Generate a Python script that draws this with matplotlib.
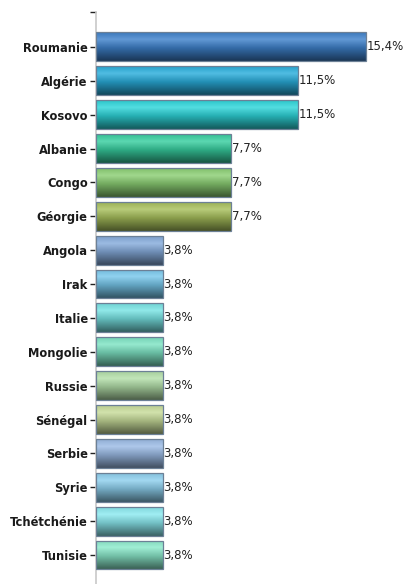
import matplotlib
matplotlib.use("Agg")
import matplotlib.pyplot as plt
from matplotlib.colors import to_rgb
import numpy as np

countries = ["Roumanie", "Algérie", "Kosovo", "Albanie", "Congo", "Géorgie",
             "Angola", "Irak", "Italie", "Mongolie", "Russie", "Sénégal",
             "Serbie", "Syrie", "Tchétchénie", "Tunisie"]
values = [15.4, 11.5, 11.5, 7.7, 7.7, 7.7,
          3.8, 3.8, 3.8, 3.8, 3.8, 3.8, 3.8, 3.8, 3.8, 3.8]
colors = ["#3f82cc", "#2aaedc", "#2ed6da", "#38cfa0", "#8ccf74", "#a8c05c",
          "#86acdc", "#78c8ec", "#78e4e4", "#7ee4c4", "#b4e0aa", "#c8dc9a",
          "#9cbce6", "#8ed0ee", "#8ceaf0", "#8ceacc"]


def gradient_img(c):
    c = np.array(to_rgb(c))
    stops = np.array([0.0, 0.25, 0.55, 1.0])
    cols = np.array([c * 0.92, c * 0.82 + 0.18, c * 0.82, c * 0.42])
    t = np.linspace(0, 1, 64)
    img = np.stack([np.interp(t, stops, cols[:, k]) for k in range(3)], axis=1)
    return np.clip(img, 0, 1)[:, None, :]


fig = plt.figure(figsize=(4.07, 5.84), dpi=100)
ax = fig.add_axes([96 / 407, 0.0, 304 / 407, 1 - 12 / 584])

pos = np.arange(len(countries))
h = 0.85
bars = ax.barh(pos, values, height=h, color="none", edgecolor="#6c8096", linewidth=0.9, zorder=3)
for b, c in zip(bars, colors):
    x0, y0 = b.get_x(), b.get_y()
    im = ax.imshow(gradient_img(c), extent=[x0, x0 + b.get_width(), y0 + h, y0],
                   aspect="auto", interpolation="bilinear", zorder=2)
    im.set_clip_path(b)

for p, v in zip(pos, values):
    ax.text(v + 0.05, p, f"{v:.1f}%".replace(".", ","), va="center", ha="left",
            fontsize=8.5, color="#222222")

ax.set_xlim(0, 304 / 17.53)
ax.set_ylim(15 + 0.856, -1.03)
ax.set_yticks(pos)
ax.set_yticklabels(countries, fontsize=8.3, fontweight="bold", color="#1a1a1a")
ax.set_yticks([-1.03], minor=True)
ax.tick_params(axis="y", which="both", length=4, width=1, color="#222222", pad=2)
ax.set_xticks([])
for s in ["top", "right", "bottom"]:
    ax.spines[s].set_visible(False)
ax.spines["left"].set_color("#c8c8c8")
ax.spines["left"].set_linewidth(1.2)

fig.savefig("out.png", dpi=100)
